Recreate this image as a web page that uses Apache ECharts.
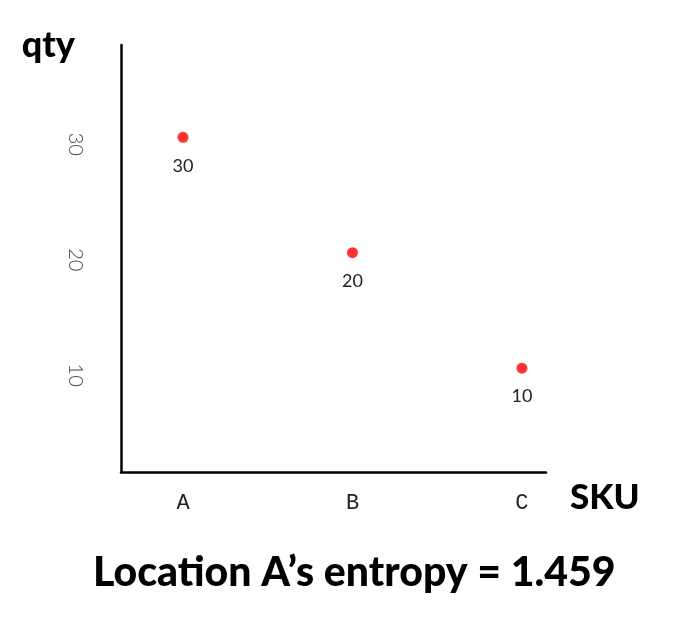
<!DOCTYPE html>
<html>
<head>
<meta charset="utf-8">
<script src="https://cdn.jsdelivr.net/npm/echarts@6/dist/echarts.min.js"></script>
<style>html,body{margin:0;padding:0;background:#fff}#c{width:691px;height:619px}</style>
</head>
<body>
<div id="c"></div>
<script>
const categories = ['A', 'B', 'C'];
const qtyValues = [30, 20, 10];
const yTickValues = [10, 20, 30];
const titleText = 'Location A’s entropy = 1.459';
const xName = 'SKU';
const yName = 'qty';

const points = categories.map((c, i) => [i, qtyValues[i]]);

const chart = echarts.init(document.getElementById('c'));
chart.setOption({
  animation: false,
  backgroundColor: '#fff',
  title: {
    text: titleText,
    left: 93,
    top: 552,
    padding: 0,
    textStyle: { fontFamily: 'Lato', fontWeight: 900, fontSize: 41, color: '#000' }
  },
  grid: { left: 121, right: 145, top: 45, bottom: 147 },
  xAxis: {
    type: 'value',
    min: -0.366,
    max: 2.142,
    name: xName,
    nameLocation: 'end',
    nameGap: 24,
    nameTextStyle: { fontFamily: 'Lato', fontWeight: 900, fontSize: 35, color: '#000', align: 'left', verticalAlign: 'top', padding: [8, 0, 0, 0] },
    axisLine: { show: true, onZero: false, lineStyle: { color: '#000', width: 2.5 } },
    axisTick: { show: false },
    splitLine: { show: false },
    axisLabel: {
      show: true,
      customValues: [0, 1, 2],
      formatter: function (v) { return categories[Math.round(v)]; },
      margin: 20,
      fontFamily: 'Liberation Mono',
      fontSize: 22,
      fontWeight: 'normal',
      color: '#222'
    }
  },
  yAxis: {
    type: 'value',
    min: 1,
    max: 38,
    name: yName,
    nameLocation: 'end',
    nameGap: 0,
    nameTextStyle: { fontFamily: 'Lato', fontWeight: 900, fontSize: 36, color: '#000', align: 'right', verticalAlign: 'middle', padding: [0, 46, 0, 0] },
    axisLine: { show: true, onZero: false, lineStyle: { color: '#000', width: 2.5 } },
    axisTick: { show: false },
    splitLine: { show: false },
    axisLabel: {
      customValues: yTickValues,
      rotate: -90,
      align: 'center',
      verticalAlign: 'middle',
      padding: [0, 0, 0, 14],
      margin: 46,
      fontFamily: 'Lato',
      fontWeight: 300,
      fontSize: 20,
      color: '#444'
    }
  },
  series: [{
    type: 'scatter',
    data: points,
    symbolSize: 11,
    itemStyle: { color: '#ff3333', opacity: 1 },
    label: {
      show: true,
      position: 'bottom',
      distance: 14,
      formatter: p => String(p.value[1]),
      fontFamily: 'Lato',
      fontSize: 18,
      color: '#222'
    }
  }]
});
</script>
</body>
</html>
